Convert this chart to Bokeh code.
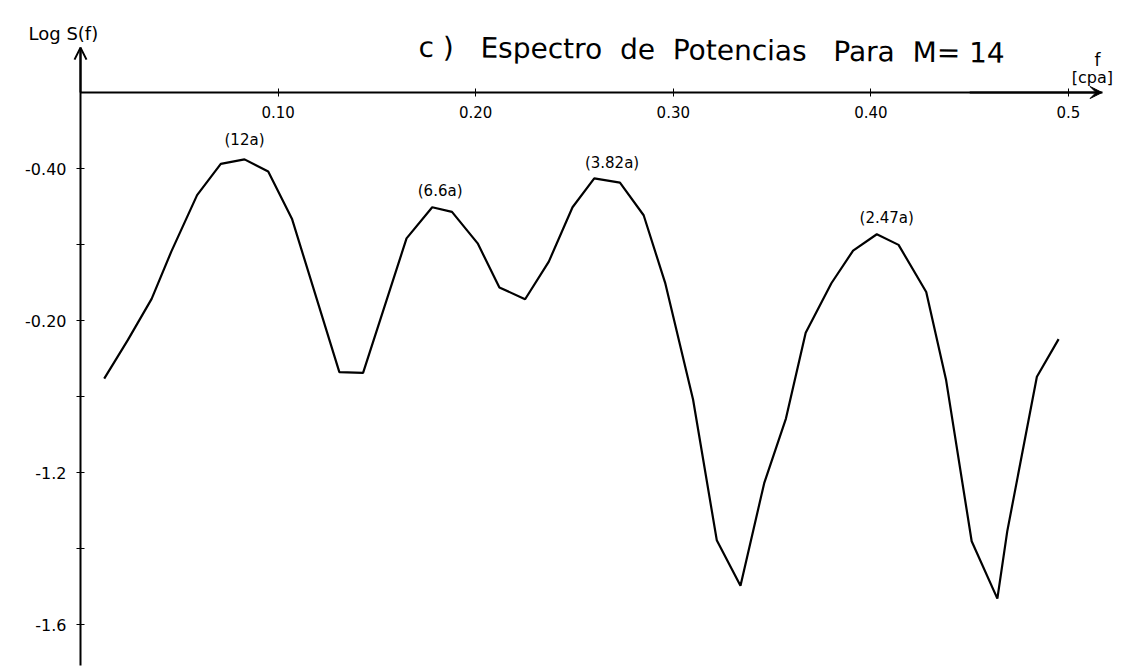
from bokeh.plotting import figure
from bokeh.models import Range1d, FixedTicker, Label, Arrow, OpenHead, VeeHead
from bokeh.core.properties import value
from bokeh.embed import file_html
from bokeh.resources import INLINE

# ---- data ----
freq = [0.012, 0.024, 0.036, 0.046, 0.059, 0.071, 0.083, 0.095, 0.107, 0.131,
        0.143, 0.165, 0.178, 0.188, 0.201, 0.212, 0.225, 0.237, 0.249, 0.260,
        0.273, 0.285, 0.296, 0.310, 0.322, 0.334, 0.346, 0.357, 0.367, 0.380,
        0.391, 0.403, 0.414, 0.428, 0.438, 0.451, 0.464, 0.469, 0.484, 0.495]
log_s = [-0.953, -0.851, -0.743, -0.618, -0.470, -0.388, -0.376, -0.408, -0.532, -0.936,
         -0.938, -0.584, -0.502, -0.514, -0.597, -0.713, -0.744, -0.645, -0.502, -0.426,
         -0.437, -0.523, -0.703, -1.008, -1.378, -1.498, -1.228, -1.058, -0.832, -0.702,
         -0.616, -0.573, -0.601, -0.725, -0.955, -1.381, -1.532, -1.355, -0.948, -0.849]

peak_labels = ["(12a)", "(6.6a)", "(3.82a)", "(2.47a)"]
peak_f = [0.083, 0.182, 0.269, 0.408]
peak_y = [-0.324, -0.460, -0.386, -0.531]

x_ticks = [0.1, 0.2, 0.3, 0.4, 0.5]
x_tick_labels = ["0.10", "0.20", "0.30", "0.40", "0.5"]
y_ticks = [-0.4, -0.6, -0.8, -1.0, -1.2, -1.4, -1.6]
y_tick_labels = ["-0.40", "", "-0.20", "", "-1.2", "", "-1.6"]

NB = "\u00a0"
title_text = "c )" + NB * 3 + "Espectro" + NB * 2 + "de" + NB * 2 + "Potencias" + NB * 3 + "Para" + NB * 2 + "M=" + NB + "14"
y_title = "Log S(f)"
x_title = "f"
x_unit = "[cpa]"

# axis geometry (data units)
axis_y = -0.2
x_axis_end = 0.517
y_axis_top = -0.082
y_axis_bottom = -1.708

W, H = 1133, 672
X0_PX, PX_PER_F = 80, 1976.0      # f = 0 at 80 px
Y0_PX, PX_PER_Y = 92, 380.0       # log = -0.2 at 92 px
x_lo = -X0_PX / PX_PER_F
x_hi = (W - X0_PX) / PX_PER_F
y_hi = axis_y + Y0_PX / PX_PER_Y
y_lo = axis_y - (H - Y0_PX) / PX_PER_Y

FONT = value("DejaVu Sans")

p = figure(width=W, height=H, output_backend="svg", toolbar_location=None,
           x_range=Range1d(x_lo, x_hi), y_range=Range1d(y_lo, y_hi),
           min_border=0, min_border_left=0, min_border_right=0,
           min_border_top=0, min_border_bottom=0,
           background_fill_color="white", border_fill_color="white")
p.outline_line_color = None
p.grid.visible = False

# x axis drawn at log = -0.2 inside the frame
p.xaxis.fixed_location = axis_y
p.xaxis.bounds = (0, x_axis_end)
p.xaxis.ticker = FixedTicker(ticks=x_ticks)
p.xaxis.major_label_overrides = {t: l for t, l in zip(x_ticks, x_tick_labels)}
p.xaxis.minor_tick_line_color = None
p.xaxis.axis_line_width = 2
p.xaxis.major_tick_in = 4
p.xaxis.major_tick_out = 4
p.xaxis.major_label_standoff = 9
p.xaxis.major_label_text_font = "DejaVu Sans"
p.xaxis.major_label_text_font_size = "15px"
p.xaxis.major_label_text_color = "black"

# y axis drawn at f = 0
p.yaxis.fixed_location = 0
p.yaxis.bounds = (y_axis_bottom, y_axis_top)
p.yaxis.ticker = FixedTicker(ticks=y_ticks)
p.yaxis.major_label_overrides = {t: l for t, l in zip(y_ticks, y_tick_labels)}
p.yaxis.minor_tick_line_color = None
p.yaxis.axis_line_width = 2
p.yaxis.major_tick_in = 4
p.yaxis.major_tick_out = 4
p.yaxis.major_label_standoff = 10
p.yaxis.major_label_text_font = "DejaVu Sans"
p.yaxis.major_label_text_font_size = "16px"
p.yaxis.major_label_text_color = "black"

p.line(freq, log_s, line_color="black", line_width=2.2)
p.text(x=peak_f, y=peak_y, text=peak_labels, text_align="center",
       text_baseline="middle", text_font=FONT, text_font_size="15px",
       text_color="black")

# axis arrowheads
p.add_layout(Arrow(end=OpenHead(size=12, line_width=2, line_color="black"),
                   x_start=0, y_start=axis_y, x_end=0, y_end=y_axis_top,
                   line_color="black", line_width=2))
p.add_layout(Arrow(end=VeeHead(size=12, fill_color="black", line_color="black"),
                   x_start=0.45, y_start=axis_y, x_end=x_axis_end, y_end=axis_y,
                   line_color="black", line_width=2))

p.add_layout(Label(x=0.1711, y=-0.081, text=title_text, angle=-0.01,
                   text_font="DejaVu Sans", text_font_size="28px",
                   text_color="black", text_align="left",
                   text_baseline="alphabetic"))
p.add_layout(Label(x=-0.0263, y=-0.045, text=y_title,
                   text_font="DejaVu Sans", text_font_size="18px",
                   text_color="black", text_align="left",
                   text_baseline="alphabetic"))
p.add_layout(Label(x=0.5147, y=-0.115, text=x_title,
                   text_font="DejaVu Sans", text_font_size="17px",
                   text_color="black", text_align="center",
                   text_baseline="alphabetic"))
p.add_layout(Label(x=0.5121, y=-0.16, text=x_unit,
                   text_font="DejaVu Sans", text_font_size="16px",
                   text_color="black", text_align="center",
                   text_baseline="alphabetic"))

open("out.html", "w").write(file_html(p, INLINE))
